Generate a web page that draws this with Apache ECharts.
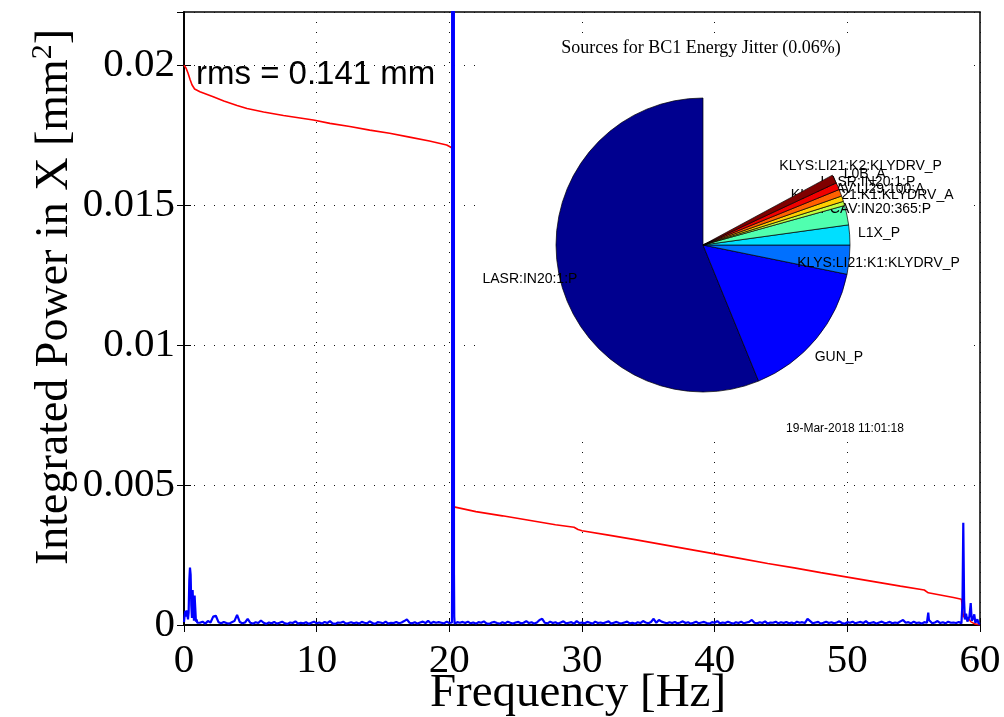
<!DOCTYPE html>
<html>
<head>
<meta charset="utf-8">
<script src="https://cdn.jsdelivr.net/npm/echarts/dist/echarts.min.js"></script>
<style>
  html, body { margin: 0; padding: 0; background: #fff; }
  #chart { width: 1004px; height: 717px; }
</style>
</head>
<body>
<div id="chart"></div>
<script>
// Axis tick labels
const xTickLabels = ['0', '10', '20', '30', '40', '50', '60'];
const yTickLabels = ['0', '0.005', '0.01', '0.015', '0.02'];

// Integrated power (red), mm^2 vs frequency in Hz
const intFreq = [0, 0.15, 0.3, 0.45, 0.6, 0.8, 1.2, 2.2, 3.0, 4.0, 4.75, 6.0, 7.5, 9.75,
  11, 12.5, 14, 15.5, 17, 18.5, 19.8, 20.15, 20.25, 20.35, 20.4, 22, 24, 26, 28,
  29.4, 29.7, 30, 32, 34, 36, 38, 40, 42, 44, 46, 48, 50, 52, 54, 55.8, 56.1,
  57, 58, 58.6, 58.75, 59.1, 59.3, 59.6, 60];
const intPower = [0.02000, 0.01990, 0.01972, 0.01950, 0.01930, 0.01915, 0.01905, 0.01887, 0.01872, 0.01856, 0.01845, 0.01833, 0.01820, 0.01804,
  0.01792, 0.01781, 0.01768, 0.01757, 0.01743, 0.01729, 0.01715, 0.01706, 0.01695, 0.00422, 0.00418, 0.00405, 0.00390, 0.00374, 0.00358,
  0.00349, 0.00341, 0.00337, 0.00321, 0.00305, 0.00288, 0.00271, 0.00254, 0.00237, 0.00220, 0.00204, 0.00187, 0.00171, 0.00155, 0.00139, 0.00125, 0.00115,
  0.00107, 0.00098, 0.00092, 0.00030, 0.00026, 0.00012, 0.00004, 0];

// Power spectrum (blue): regular grid from 1.2 Hz to 58.4 Hz, values in units of 1e-5 mm^2
const psdStart = 1.2;
const psdStep = 0.2;
const psdUnit = 1e-5;
const psdBase = [
  8, 12, 5, 14, 9, 30, 33, 10, 6, 11, 7, 5, 10, 14, 36, 11, 6, 9, 22, 8,
  5, 10, 7, 16, 8, 4, 9, 6, 11, 5, 8, 12, 6, 4, 9, 7, 13, 5, 8, 6,
  10, 4, 8, 12, 6, 9, 5, 11, 7, 14, 6, 4, 9, 8, 12, 5, 7, 10, 6, 9,
  5, 11, 8, 6, 13, 7, 4, 10, 9, 6, 12, 5, 8, 7, 11, 6, 9, 14, 20, 8,
  6, 10, 5, 9, 12, 7, 15, 6, 11, 8, 10, 8, 6, 12, 7, 9, 5, 10, 8, 11,
  7, 12, 6, 9, 5, 10, 8, 13, 6, 4, 9, 11, 7, 5, 10, 6, 12, 8, 5, 9,
  11, 6, 8, 14, 7, 10, 5, 9, 18, 22, 8, 6, 12, 7, 10, 5, 9, 13, 6, 8,
  10, 5, 14, 7, 9, 6, 11, 8, 5, 12, 7, 9, 6, 10, 13, 5, 8, 11, 7, 6,
  9, 12, 6, 8, 5, 10, 7, 14, 9, 6, 11, 22, 8, 18, 12, 9, 6, 10, 7, 11,
  6, 9, 13, 7, 10, 5, 8, 12, 6, 9, 11, 7, 5, 10, 8, 14, 6, 9, 7, 12,
  8, 5, 10, 7, 12, 6, 9, 11, 18, 8, 6, 10, 7, 13, 5, 9, 8, 12, 6, 10,
  7, 11, 6, 9, 5, 12, 8, 10, 7, 22, 14, 6, 9, 11, 5, 8, 12, 7, 10, 6,
  9, 13, 7, 5, 10, 8, 12, 6, 9, 11, 7, 14, 6, 8, 10, 5, 9, 12, 7, 8,
  11, 6, 9, 7, 13, 18, 8, 10, 6, 12, 7, 9, 5, 10, 8, 11, 6, 9, 14, 7,
  10, 6, 12, 8, 9, 7, 11
];
// Narrow spectral lines, [frequency Hz, power mm^2]
const psdPeaks = [
  [0, 0.00010], [0.05, 0.00035], [0.1, 0.00050], [0.15, 0.00030], [0.2, 0.00052], [0.25, 0.00055],
  [0.3, 0.00020], [0.35, 0.00045], [0.4, 0.00160], [0.45, 0.00205], [0.5, 0.00180], [0.55, 0.00070],
  [0.6, 0.00025], [0.65, 0.00125], [0.7, 0.00060], [0.75, 0.00015], [0.8, 0.00105], [0.85, 0.00060],
  [0.9, 0.00012], [0.95, 0.00020], [1.0, 0.00008], [1.1, 0.00014],
  [20.21, 0.00170], [20.23, 0.30000], [20.33, 0.30000], [20.35, 0.00180], [20.37, 0.00030],
  [56.05, 0.00014], [56.1, 0.00044], [56.15, 0.00018],
  [58.5, 0.00010], [58.6, 0.00006], [58.68, 0.00080], [58.74, 0.00365], [58.8, 0.00090], [58.86, 0.00020],
  [58.95, 0.00040], [59.05, 0.00012], [59.2, 0.00030], [59.3, 0.00078], [59.38, 0.00015],
  [59.5, 0.00025], [59.57, 0.00038], [59.65, 0.00008], [59.8, 0.00020], [59.9, 0.00005], [60, 0.00003]
];

// Jitter sources: share of the full circle for each slice
const sourceNames = ['LASR:IN20:1:P', 'GUN_P', 'KLYS:LI21:K1:KLYDRV_P', 'L1X_P', 'PCAV:IN20:365:P',
  'KLYS:LI21:K1:KLYDRV_A', 'PCAV:LI29:100:A', 'LASR:IN20:1:P', 'L0B_A', 'KLYS:LI21:K2:KLYDRV_P'];
const sourceShares = [0.5617, 0.1564, 0.0319, 0.0219, 0.0214, 0.0047, 0.0061, 0.0075, 0.0078, 0.0094];
const sourceColors = ['#00008F', '#0000FF', '#0070FF', '#00DFFF', '#50FFAF',
  '#BFFF40', '#FFCF00', '#FF6000', '#EF0000', '#800000'];

// ---- build series data ----
const redData = intFreq.map((f, i) => [f, intPower[i]]);
const blueData = psdBase
  .map((v, i) => [+(psdStart + i * psdStep).toFixed(2), v * psdUnit])
  .concat(psdPeaks)
  .sort((a, b) => a[0] - b[0]);

// pie geometry (partial pie: the unfilled part is a transparent spacer)
const PIE_CX = 703, PIE_CY = 245, PIE_R = 147, LABEL_R = 1.2 * PIE_R;
const shareSum = sourceShares.reduce((a, b) => a + b, 0);
const pieShares = sourceShares.concat([1 - shareSum]);
const midAngles = [];
{
  let acc = 0;
  pieShares.forEach(v => { midAngles.push(90 + 360 * (acc + v / 2)); acc += v; });
}
function placeLabel(p) {
  const a = midAngles[p.dataIndex] * Math.PI / 180;
  return { x: PIE_CX + LABEL_R * Math.cos(a), y: PIE_CY - LABEL_R * Math.sin(a), align: 'center', verticalAlign: 'middle' };
}
const hidden = { color: 'rgba(0,0,0,0)', borderWidth: 0 };

// one series per slice: each wedge is followed by its own label, so later wedges overlap earlier labels
const sans = 'Liberation Sans';
const serif = 'Liberation Serif';
const sliceSeries = sourceNames.map((name, k) => ({
  type: 'pie', z: 4 + k, center: [PIE_CX, PIE_CY], radius: PIE_R, startAngle: 90, clockwise: false,
  avoidLabelOverlap: false, silent: true, emphasis: { disabled: true },
  data: pieShares.map((v, i) => i === k
    ? { name: name, value: v, itemStyle: { color: sourceColors[i], borderColor: '#000', borderWidth: 0.7 }, label: { show: true } }
    : { name: '', value: v, itemStyle: hidden, label: { show: false } }),
  label: { position: 'outside', formatter: '{b}', fontFamily: sans, fontSize: 14, color: '#000' },
  labelLine: { show: false }, labelLayout: placeLabel
}));

const X_MAX = 60, Y_MAX = 0.0219, Y_STEP = 0.005;

function yLabel(v) {
  const k = Math.round(v / Y_STEP);
  return Math.abs(v - k * Y_STEP) < 1e-9 && yTickLabels[k] !== undefined ? yTickLabels[k] : '';
}
function xLabel(v) {
  const k = Math.round(v / 10);
  return xTickLabels[k] !== undefined ? xTickLabels[k] : '';
}

const axisLineStyle = { show: true, lineStyle: { color: '#000', width: 1.5 } };
const tickStyle = { show: true, inside: true, length: 7, lineStyle: { color: '#000', width: 1 } };
const gridDots = { show: true, lineStyle: { color: '#111', width: 1, type: [1, 9] } };

const chart = echarts.init(document.getElementById('chart'), null, { renderer: 'canvas' });
chart.setOption({
  animation: false,
  backgroundColor: '#fff',
  grid: { left: 184, top: 12, width: 796, height: 613, show: true, borderColor: '#000', borderWidth: 1.5,
    backgroundColor: 'transparent', containLabel: false, outerBoundsMode: 'none' },
  xAxis: [{
    type: 'value', min: 0, max: X_MAX, interval: 10, position: 'bottom', z: 0,
    axisLine: axisLineStyle, axisTick: tickStyle, splitLine: gridDots,
    axisLabel: { fontFamily: serif, fontSize: 41, color: '#000', margin: 16, formatter: xLabel }
  }, {
    type: 'value', min: 0, max: X_MAX, interval: 10, position: 'top', z: 0,
    axisLine: axisLineStyle, axisTick: tickStyle, axisLabel: { show: false }, splitLine: { show: false }
  }],
  yAxis: [{
    type: 'value', min: 0, max: Y_MAX, interval: Y_STEP, position: 'left', z: 0,
    axisLine: axisLineStyle, axisTick: tickStyle, splitLine: gridDots,
    axisLabel: { fontFamily: serif, fontSize: 41, color: '#000', margin: 9, formatter: yLabel, showMaxLabel: false }
  }, {
    type: 'value', min: 0, max: Y_MAX, interval: Y_STEP, position: 'right', z: 0,
    axisLine: axisLineStyle, axisTick: tickStyle, axisLabel: { show: false }, splitLine: { show: false }
  }],
  graphic: [
    { type: 'rect', z: 1, silent: true, shape: { x: 479, y: 36, width: 490, height: 401 }, style: { fill: '#fff' } },
    { type: 'text', z: 30, x: 53, y: 297, rotation: Math.PI / 2, silent: true,
      style: { text: '{a|Integrated Power in X [mm}{s|2}{a|]}', align: 'center', verticalAlign: 'middle',
        rich: { a: { fontFamily: serif, fontSize: 46, color: '#000', lineHeight: 50, verticalAlign: 'bottom' },
                s: { fontFamily: serif, fontSize: 30, color: '#000', lineHeight: 24, verticalAlign: 'top' } } } },
    { type: 'text', z: 30, x: 578, y: 694, silent: true,
      style: { text: 'Frequency [Hz]', fontFamily: serif, fontSize: 47, fill: '#000', align: 'center', verticalAlign: 'middle' } },
    { type: 'text', z: 30, x: 196, y: 75, silent: true,
      style: { text: 'rms = 0.141 mm', fontFamily: sans, fontSize: 33, fill: '#000', align: 'left', verticalAlign: 'middle' } },
    { type: 'text', z: 30, x: 701, y: 48, silent: true,
      style: { text: 'Sources for BC1 Energy Jitter (0.06%)', fontFamily: serif, fontSize: 18, fill: '#000', align: 'center', verticalAlign: 'middle' } },
    { type: 'text', z: 30, x: 845, y: 429, silent: true,
      style: { text: '19-Mar-2018 11:01:18', fontFamily: sans, fontSize: 12, fill: '#000', align: 'center', verticalAlign: 'middle' } }
  ],
  series: [{
    type: 'line', name: 'integrated', xAxisIndex: 0, yAxisIndex: 0, z: 2,
    data: redData, showSymbol: false, symbol: 'none', silent: true,
    lineStyle: { color: '#FF0000', width: 1.6 }
  }, {
    type: 'line', name: 'spectrum', xAxisIndex: 0, yAxisIndex: 0, z: 3,
    data: blueData, showSymbol: false, symbol: 'none', silent: true,
    lineStyle: { color: '#0000FF', width: 2.2 }
  }].concat(sliceSeries)
});
</script>
</body>
</html>
